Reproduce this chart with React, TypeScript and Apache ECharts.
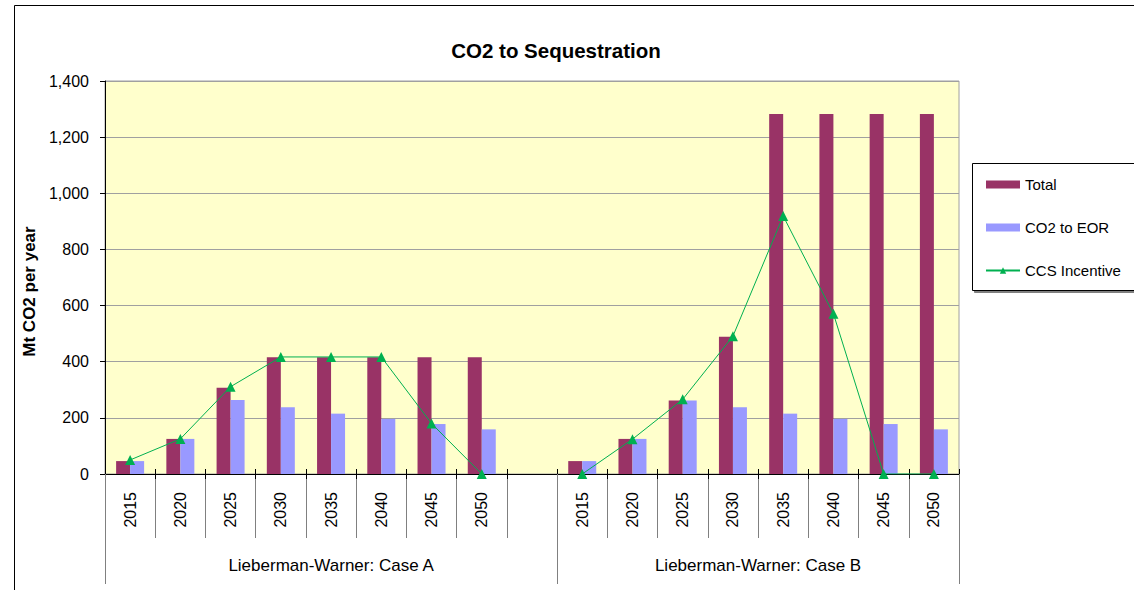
import React, { useEffect, useRef } from "react";
import * as echarts from "echarts";

const years = ["2015", "2020", "2025", "2030", "2035", "2040", "2045", "2050"];
const categories = [...years, "", ...years];
const groupLabels = ["Lieberman-Warner: Case A", "Lieberman-Warner: Case B"];

const totalA = [46, 125, 307, 416, 416, 416, 416, 416];
const totalB = [46, 125, 262, 489, 1282, 1282, 1282, 1282];
const eorA = [46, 125, 264, 238, 215, 196, 178, 159];
const eorB = [46, 125, 262, 238, 215, 196, 178, 159];
const ccsA = [50, 125, 311, 417, 417, 417, 180, 0];
const ccsB = [0, 124, 266, 491, 919, 571, 0, 0];

const yTicks = { min: 0, max: 1400, interval: 200 };

export default function App() {
  const ref = useRef<HTMLDivElement>(null);
  useEffect(() => {
    if (!ref.current) return;
    const chart = echarts.init(ref.current, undefined, { renderer: "svg" });
    const font = "Liberation Sans, Arial, sans-serif";
    const totalData = [...totalA, null, ...totalB];
    const eorData = [...eorA, null, ...eorB];
    const ccsData = [...ccsA, null, ...ccsB];
    // group axis: half-slot points (boundaryGap false)
    const nSlots = categories.length;
    const groupData: string[] = [];
    for (let i = 0; i <= nSlots * 2; i++) groupData.push("");
    const aSlots = years.length + 1;
    groupData[aSlots] = groupLabels[0];
    groupData[aSlots * 2 + years.length] = groupLabels[1];
    const sepIdx = [0, aSlots * 2, nSlots * 2];

    chart.setOption({
      animation: false,
      backgroundColor: "#ffffff",
      textStyle: { fontFamily: font },
      title: {
        text: "CO2 to Sequestration",
        left: 551,
        textAlign: "center",
        top: 35,
        textStyle: { fontFamily: font, fontSize: 20.5, fontWeight: "bold", color: "#000" },
      },
      graphic: [
        {
          type: "rect",
          shape: { x: 14.5, y: 5.5, width: 1300, height: 800 },
          style: { fill: "none", stroke: "#000", lineWidth: 1 },
          silent: true,
        },
        {
          type: "rect",
          shape: { x: 972.5, y: 163.5, width: 300, height: 127 },
          style: {
            fill: "#fff",
            stroke: "#000",
            lineWidth: 1,
            shadowColor: "#808080",
            shadowOffsetX: 2,
            shadowOffsetY: 2,
            shadowBlur: 0,
          },
          silent: true,
          z: -1,
        },
      ],
      legend: {
        orient: "vertical",
        left: 980,
        top: 172,
        itemWidth: 34,
        itemHeight: 8,
        itemGap: 28,
        textStyle: { fontFamily: font, fontSize: 15, color: "#000" },
        data: [
          { name: "Total", icon: "rect" },
          { name: "CO2 to EOR", icon: "rect" },
          { name: "CCS Incentive" },
        ],
      },
      grid: {
        left: 105,
        top: 81,
        right: 175,
        bottom: 116,
        show: true,
        backgroundColor: "#FFFFCC",
        borderColor: "#a0a0a0",
        borderWidth: 1,
      },
      xAxis: [
        {
          type: "category",
          data: categories,
          position: "bottom",
          axisLine: { show: true, lineStyle: { color: "#000", width: 1 } },
          axisTick: {
            show: true,
            alignWithLabel: false,
            interval: 0,
            length: 64,
            lineStyle: { color: "#808080", width: 1 },
          },
          axisLabel: {
            interval: 0,
            rotate: 90,
            margin: 18,
            fontFamily: font,
            fontSize: 16,
            color: "#000",
          },
          splitLine: { show: false },
        },
        {
          type: "category",
          data: categories,
          position: "bottom",
          axisLine: { show: false },
          axisTick: { show: true, inside: true, interval: 0, length: 5, lineStyle: { color: "#000", width: 1 } },
          axisLabel: { show: false },
        },
        {
          type: "category",
          data: categories,
          position: "bottom",
          axisLine: { show: false },
          axisTick: { show: true, interval: 0, length: 5, lineStyle: { color: "#000", width: 1 } },
          axisLabel: { show: false },
        },
        {
          type: "category",
          data: groupData,
          boundaryGap: false,
          position: "bottom",
          axisLine: { show: false },
          axisTick: {
            show: true,
            interval: (idx: number) => sepIdx.indexOf(idx) >= 0,
            length: 110,
            lineStyle: { color: "#808080", width: 1 },
          },
          axisLabel: {
            interval: 0,
            margin: 83,
            fontFamily: font,
            fontSize: 17,
            color: "#000",
          },
        },
      ],
      yAxis: {
        type: "value",
        min: yTicks.min,
        max: yTicks.max,
        interval: yTicks.interval,
        name: "Mt CO2 per year",
        nameLocation: "middle",
        nameRotate: 90,
        nameGap: 53,
        nameTextStyle: {
          fontFamily: font,
          fontSize: 17,
          fontWeight: "bold",
          color: "#000",
          padding: [0, 28, 0, 0],
        },
        axisLine: { show: true, lineStyle: { color: "#000", width: 1 } },
        axisTick: { show: true, length: 5, lineStyle: { color: "#000" } },
        axisLabel: {
          margin: 16,
          fontFamily: font,
          fontSize: 16,
          color: "#000",
          formatter: (v: number) => v.toLocaleString("en-US"),
        },
        splitLine: { show: true, lineStyle: { color: "#a0a0a0", width: 1 } },
      },
      series: [
        {
          name: "Total",
          type: "bar",
          data: totalData,
          barWidth: 14,
          barGap: "0%",
          itemStyle: { color: "#993366" },
        },
        {
          name: "CO2 to EOR",
          type: "bar",
          data: eorData,
          barWidth: 14,
          barGap: "0%",
          itemStyle: { color: "#9999FF" },
        },
        {
          name: "CCS Incentive",
          type: "line",
          data: ccsData,
          connectNulls: false,
          symbol: "triangle",
          symbolSize: 10,
          lineStyle: { color: "#00B050", width: 1 },
          itemStyle: { color: "#00B050" },
          z: 5,
        },
      ],
    });
    return () => chart.dispose();
  }, []);
  return (
    <div
      ref={ref}
      style={{ position: "absolute", left: 0, top: 0, width: 1134, height: 590 }}
    />
  );
}
